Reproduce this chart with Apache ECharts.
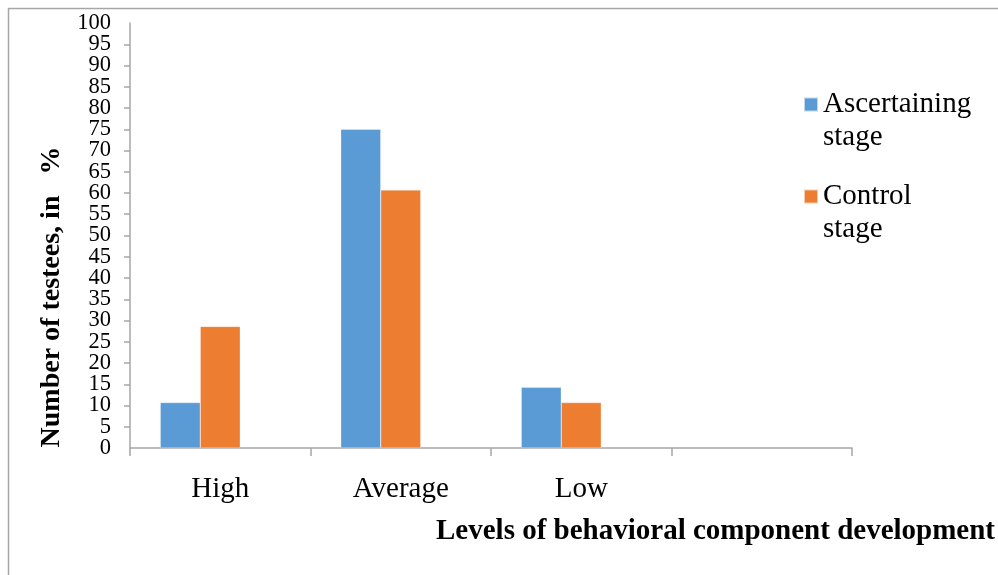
<!DOCTYPE html>
<html>
<head>
<meta charset="utf-8">
<script src="https://cdn.jsdelivr.net/npm/echarts@6/dist/echarts.min.js"></script>
<style>
html,body{margin:0;padding:0;background:#fff;}
#c{width:998px;height:575px;}
</style>
</head>
<body>
<div id="c"></div>
<script>
var categories = ['High', 'Average', 'Low', ''];
var seriesNames = ['Ascertaining stage', 'Control stage'];
var ascertaining = [10.7, 75, 14.3, null];
var control = [28.6, 60.7, 10.7, null];
var emptySeries = [null, null, null, null];
var yMin = 0, yMax = 100, yStep = 5;
var yAxisTitle = 'Number of testees, in   %';
var xAxisTitle = 'Levels of behavioral component development';

var serif = '"Liberation Serif", "Times New Roman", serif';
var chart = echarts.init(document.getElementById('c'), null, {renderer: 'canvas'});
var barCommon = {type: 'bar', barGap: '0%', barCategoryGap: '33.5%', yAxisIndex: 0,
  itemStyle: {borderColor: 'rgba(255,255,255,0.6)', borderWidth: 0.5}};
var yLabelStyle = {fontFamily: serif, fontSize: 22.5, color: '#000', margin: 19};
chart.setOption({
  animation: false,
  backgroundColor: '#fff',
  color: ['#5B9BD5', '#ED7D31', '#A5A5A5'],
  grid: {left: 130, right: 146, top: 23, bottom: 127, containLabel: false},
  legend: {
    orient: 'vertical',
    left: 803,
    top: 55,
    padding: 0,
    itemWidth: 14,
    itemHeight: 14,
    itemGap: -7,
    icon: 'rect',
    data: seriesNames,
    formatter: function (n) { return '\n' + n.replace(' ', '\n'); },
    textStyle: {fontFamily: serif, fontSize: 29, color: '#000', lineHeight: 33}
  },
  xAxis: {
    type: 'category',
    data: categories,
    axisLine: {lineStyle: {color: '#a6a6a6', width: 1.5}},
    axisTick: {show: true, alignWithLabel: false, length: 8, lineStyle: {color: '#a6a6a6', width: 1.5}},
    axisLabel: {fontFamily: serif, fontSize: 29, color: '#000', margin: 27, interval: 0},
    splitLine: {show: false}
  },
  yAxis: [{
    type: 'value', position: 'left',
    min: yMin, max: yMax, interval: yStep,
    axisLine: {show: true, lineStyle: {color: '#a6a6a6', width: 1.5}},
    axisTick: {show: true, length: 6, lineStyle: {color: '#a6a6a6', width: 1.5}},
    axisLabel: Object.assign({showMinLabel: false, showMaxLabel: false}, yLabelStyle),
    splitLine: {show: false}
  }, {
    type: 'value', position: 'left', offset: 0,
    min: yMin, max: yMax, interval: yMax - yMin,
    axisLine: {show: false},
    axisTick: {show: false},
    axisLabel: Object.assign({showMinLabel: true, showMaxLabel: true}, yLabelStyle),
    splitLine: {show: false}
  }],
  graphic: [
    {type: 'rect', silent: true, shape: {x: 8.5, y: 8.5, width: 1100, height: 700},
     style: {fill: 'none', stroke: '#a6a6a6', lineWidth: 1.5}},
    {type: 'text', x: 52, y: 297, rotation: Math.PI / 2,
     style: {text: yAxisTitle, font: 'bold 28px ' + serif, fill: '#000', align: 'center', verticalAlign: 'middle'}},
    {type: 'text', x: 995, y: 532,
     style: {text: xAxisTitle, font: 'bold 29px ' + serif, fill: '#000', align: 'right', verticalAlign: 'middle'}}
  ],
  series: [
    Object.assign({name: seriesNames[0], data: ascertaining}, barCommon),
    Object.assign({name: seriesNames[1], data: control}, barCommon),
    Object.assign({name: 'empty', data: emptySeries}, barCommon)
  ]
});
</script>
</body>
</html>
